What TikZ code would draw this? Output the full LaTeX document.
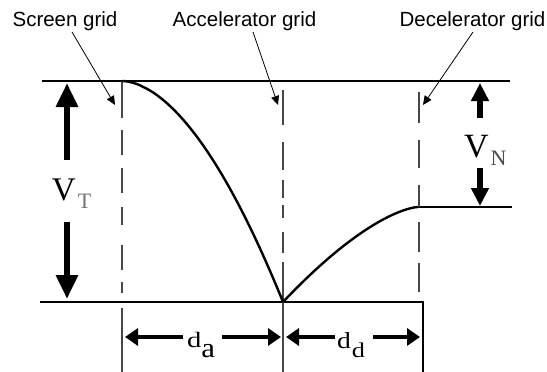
\documentclass[tikz,border=0pt]{standalone}
\usepackage{fontspec}
\setmainfont{Liberation Serif}
\newfontfamily\lblfont{Liberation Sans}
\usetikzlibrary{arrows.meta}
\begin{document}
\begin{tikzpicture}[x=1pt,y=-1pt,
  mainline/.style={line width=2.4pt, black},
  gridline/.style={line width=2pt, black!72},
  pointer/.style={line width=0.8pt, -{Triangle[length=9pt,width=8pt]}},
  bigarrow/.style={line width=6pt, -{Triangle[length=24pt,width=21pt]}},
  midarrow/.style={line width=6pt, -{Triangle[length=18pt,width=17pt]}},
  dimarrow/.style={line width=4pt, -{Triangle[length=13pt,width=17pt]}},
  lbl/.style={font=\lblfont\fontsize{20.5}{24}\selectfont, inner sep=0pt, anchor=base},
  sym/.style={inner sep=0pt, outer sep=0pt, anchor=base west},
]
\useasboundingbox (0,0) rectangle (547,372);

% labels
\node[lbl] (screen) at (65,27) {Screen grid};
\node[lbl] (accel) at (244.5,27) {Accelerator grid};
\node[lbl] (decel) at (472.5,27) {Decelerator grid};

% coordinates
\coordinate (sp0) at (72,32);   \coordinate (sp1) at (115,105);
\coordinate (ap0) at (253,32);  \coordinate (ap1) at (278,105);
\coordinate (dp0) at (473,32);  \coordinate (dp1) at (423,105);

% main horizontal lines
\coordinate (topL) at (42,81);   \coordinate (topR) at (510,81);
\coordinate (midL) at (418,207); \coordinate (midR) at (512,207);
\coordinate (botL) at (40,302);  \coordinate (botR) at (423,302);
\coordinate (botRD) at (423,372);
\draw[mainline] (topL) -- (topR);
\draw[mainline] (midL) -- (midR);
\draw[mainline] (botL) -- (botR) -- (botRD);

% screen grid
\draw[gridline] (122,81) -- (122,118);
\draw[gridline, dash pattern=on 25pt off 13pt on 25pt off 14pt on 18pt off 20pt on 25pt off 12pt on 11pt off 40pt] (122,130) -- (122,293);
\draw[gridline] (122,308) -- (122,372);

% accelerator grid
\draw[gridline, dash pattern=on 35pt off 17pt on 28pt off 10pt on 18pt off 7pt on 13pt off 14pt on 21pt off 40pt] (283,90) -- (283,253);
\draw[gridline] (283,262) -- (283,372);

% decelerator grid
\draw[gridline, dash pattern=on 31pt off 17pt on 28pt off 17pt on 22pt off 15pt on 30pt off 11pt on 29pt off 40pt] (419,92) -- (419,292);

% potential curves
\coordinate (c0) at (122,81);
\coordinate (cmin) at (283,302);
\coordinate (c1) at (418,207);
\draw[mainline, line join=round] (c0) -- plot[domain=0.01:1, samples=50] ({122+161*\x},{81+221*exp(1.8*ln(\x))});
\draw[mainline, line join=round] plot[domain=0:1, samples=50] ({283+135*\x},{207+95*(1-\x)*sqrt(1-\x)}) -- (midL);

% pointers
\draw[pointer] (sp0) -- (sp1);
\draw[pointer] (ap0) -- (ap1);
\draw[pointer] (dp0) -- (dp1);

% V_T
\coordinate (vtU0) at (67,160); \coordinate (vtU1) at (67,83);
\coordinate (vtD0) at (67,222); \coordinate (vtD1) at (67,299);
\draw[bigarrow] (vtU0) -- (vtU1);
\draw[bigarrow] (vtD0) -- (vtD1);
\node[sym] (vt) at (52,200) {\fontsize{33}{33}\selectfont V\hspace{2pt}\raisebox{-8pt}{\fontsize{22}{22}\selectfont\color{black!55}T}};

% V_N
\coordinate (vnU0) at (480,118); \coordinate (vnU1) at (480,83);
\coordinate (vnD0) at (480,168); \coordinate (vnD1) at (480,206);
\draw[midarrow] (vnU0) -- (vnU1);
\draw[midarrow] (vnD0) -- (vnD1);
\node[sym] (vn) at (464,157) {\fontsize{34}{34}\selectfont V\hspace{2pt}\raisebox{-8pt}{\fontsize{22}{22}\selectfont\color{black!70}N}};

% d_a
\coordinate (daL0) at (183,337); \coordinate (daL1) at (125,337);
\coordinate (daR0) at (222,337); \coordinate (daR1) at (281,337);
\draw[dimarrow] (daL0) -- (daL1);
\draw[dimarrow] (daR0) -- (daR1);
\node[sym] (da) at (187,347) {\scalebox{1.3}[1]{\fontsize{22}{22}\selectfont d}\raisebox{-10pt}{\scalebox{1.1}[1]{\fontsize{28}{28}\selectfont a}}};

% d_d
\coordinate (ddL0) at (335,337); \coordinate (ddL1) at (286,337);
\coordinate (ddR0) at (373,337); \coordinate (ddR1) at (420,337);
\draw[dimarrow] (ddL0) -- (ddL1);
\draw[dimarrow] (ddR0) -- (ddR1);
\node[sym] (dd) at (337,348) {\scalebox{1.2}[1]{\fontsize{23}{23}\selectfont d}\hspace{1pt}\raisebox{-9pt}{\scalebox{1.25}[1]{\fontsize{21}{21}\selectfont d}}};
\end{tikzpicture}
\end{document}
